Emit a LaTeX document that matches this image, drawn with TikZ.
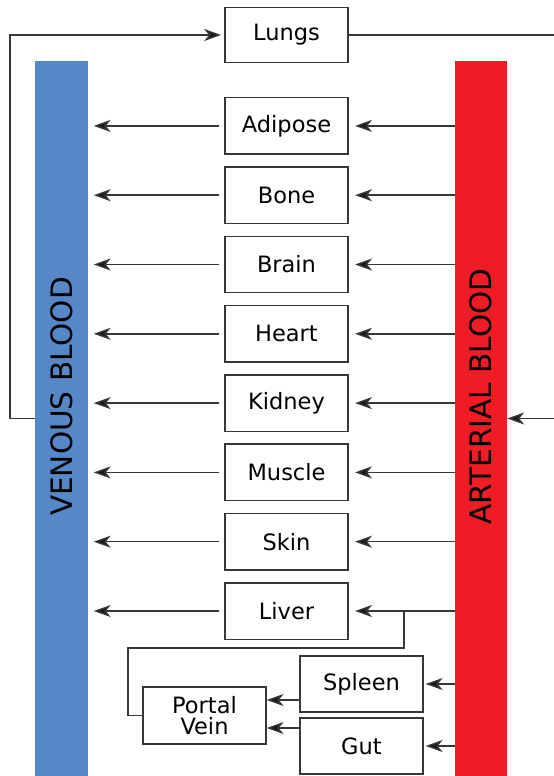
\documentclass[tikz,border=0pt]{standalone}
\usepackage{fontspec}
\setmainfont{DejaVu Sans}
\usetikzlibrary{arrows.meta,positioning}

\definecolor{venousblue}{RGB}{86,136,200}
\definecolor{arterialred}{RGB}{237,28,37}
\definecolor{linegray}{RGB}{55,55,55}

\tikzset{
  organ/.style={rectangle,draw=linegray,line width=1pt,minimum width=3.075cm,minimum height=1.41cm,inner sep=0pt,font=\fontsize{16}{16}\selectfont},
  blood/.style={rectangle,rotate=90,minimum width=17.85cm,minimum height=1.3cm,inner sep=0pt,font=\fontsize{21}{21}\selectfont},
  flow/.style={draw=linegray,line width=1pt,-{Stealth[length=0.42cm,width=0.3cm,inset=0.12cm,fill=black!90]}},
  pipe/.style={draw=linegray,line width=1pt}
}

\begin{document}
\begin{tikzpicture}[x=0.025cm,y=-0.025cm]
\useasboundingbox (0,0) rectangle (553,776);

% Blood pools
\node[blood,fill=venousblue] (venous) at (61.5,418.5) {\hspace*{1.1cm}VENOUS BLOOD};
\node[blood,fill=arterialred] (arterial) at (481,418.5) {\hspace*{1.1cm}ARTERIAL BLOOD};

% Organs
\node[organ,minimum height=1.375cm] (lungs) at (286.5,35) {Lungs};
\node[organ] (adipose) at (286.5,125.9) {Adipose};
\node[organ] (bone) at (286.5,195.2) {Bone};
\node[organ] (brain) at (286.5,264.5) {Brain};
\node[organ] (heart) at (286.5,333.8) {Heart};
\node[organ] (kidney) at (286.5,403.1) {Kidney};
\node[organ] (muscle) at (286.5,472.4) {Muscle};
\node[organ] (skin) at (286.5,541.7) {Skin};
\node[organ] (liver) at (286.5,611) {Liver};
\node[organ,minimum height=1.4cm] (spleen) at (361.5,684) {Spleen};
\node[organ,minimum height=1.4cm] (gut) at (361.5,746) {Gut};
\node[organ,minimum height=1.425cm,align=center,font=\fontsize{16}{14.5}\selectfont] (portal) at (204.5,715.5) {Portal\\Vein};

% Lung loop
\draw[flow,shorten >=0.08cm] (venous.north) -- (10,418.5) |- (lungs.west);
\draw[flow] (lungs.east) -- (560,35) |- (arterial.south);

% Arterial to organs
\draw[flow,shorten >=0.16cm] (adipose -| arterial.north) -- (adipose.east);
\draw[flow,shorten >=0.16cm] (bone -| arterial.north) -- (bone.east);
\draw[flow,shorten >=0.16cm] (brain -| arterial.north) -- (brain.east);
\draw[flow,shorten >=0.16cm] (heart -| arterial.north) -- (heart.east);
\draw[flow,shorten >=0.16cm] (kidney -| arterial.north) -- (kidney.east);
\draw[flow,shorten >=0.16cm] (muscle -| arterial.north) -- (muscle.east);
\draw[flow,shorten >=0.16cm] (skin -| arterial.north) -- (skin.east);
\draw[flow,shorten >=0.16cm] (liver -| arterial.north) -- (liver.east);
\draw[flow,shorten >=0.05cm] (spleen -| arterial.north) -- (spleen.east);
\draw[flow,shorten >=0.05cm] (gut -| arterial.north) -- (gut.east);

% Organs to venous
\draw[flow,shorten <=0.12cm,shorten >=0.15cm] (adipose.west) -- (adipose -| venous.south);
\draw[flow,shorten <=0.12cm,shorten >=0.15cm] (bone.west) -- (bone -| venous.south);
\draw[flow,shorten <=0.12cm,shorten >=0.15cm] (brain.west) -- (brain -| venous.south);
\draw[flow,shorten <=0.12cm,shorten >=0.15cm] (heart.west) -- (heart -| venous.south);
\draw[flow,shorten <=0.12cm,shorten >=0.15cm] (kidney.west) -- (kidney -| venous.south);
\draw[flow,shorten <=0.12cm,shorten >=0.15cm] (muscle.west) -- (muscle -| venous.south);
\draw[flow,shorten <=0.12cm,shorten >=0.15cm] (skin.west) -- (skin -| venous.south);
\draw[flow,shorten <=0.12cm,shorten >=0.15cm] (liver.west) -- (liver -| venous.south);

% Portal circulation
\coordinate (split) at (404,611);
\draw[pipe] (split) -- (404,648) -- (128,648) |- (portal.west);
\coordinate (spleenout) at (300,700);
\coordinate (gutout) at (300,728);
\draw[flow] (spleenout) -- (spleenout -| portal.east);
\draw[flow] (gutout) -- (gutout -| portal.east);
\end{tikzpicture}
\end{document}
